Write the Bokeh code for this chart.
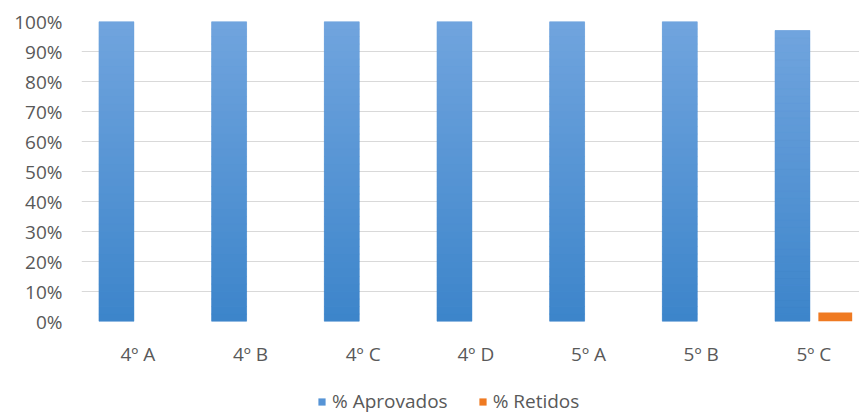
from bokeh.plotting import figure
from bokeh.layouts import column
from bokeh.models import Range1d, FixedTicker, NumeralTickFormatter, Legend, LegendItem, ColumnDataSource
from bokeh.embed import file_html
from bokeh.resources import INLINE

turmas = ["4º A", "4º B", "4º C", "4º D", "5º A", "5º B", "5º C"]
aprovados = [1.00, 1.00, 1.00, 1.00, 1.00, 1.00, 0.97]
retidos = [0.00, 0.00, 0.00, 0.00, 0.00, 0.00, 0.03]
series = ["% Aprovados", "% Retidos"]

FONT = "Open Sans"
FONT_SIZE = "19px"
GRAY = "#595959"
BLUE = "#5694d6"
BLUE_TOP = (0x70, 0xa4, 0xde)
BLUE_BOTTOM = (0x3d, 0x85, 0xca)
ORANGE = "#ef7a22"

idx = list(range(len(turmas)))
OFFSET = 0.19
src = ColumnDataSource(dict(
    xa=[i - OFFSET for i in idx],
    xr=[i + OFFSET for i in idx],
    aprovados=aprovados,
    retidos=retidos,
))

# vertical gradient for the blue bars: each bar split into thin bands
N = 40
gx, gb, gt, gc = [], [], [], []
for i, v in zip(idx, aprovados):
    for k in range(N):
        f = k / (N - 1)
        rgb = tuple(int(round(b + (t - b) * f)) for b, t in zip(BLUE_BOTTOM, BLUE_TOP))
        gx.append(i - OFFSET)
        gb.append(v * k / N)
        gt.append(v * (k + 1) / N)
        gc.append("#%02x%02x%02x" % rgb)
grad = ColumnDataSource(dict(x=gx, bottom=gb, top=gt, color=gc))

p = figure(width=859, height=370, output_backend="svg", toolbar_location=None,
           x_range=Range1d(-0.5, 6.405), y_range=Range1d(0, 1.0),
           min_border_left=81, min_border_right=0, min_border_top=21, min_border_bottom=49)
p.outline_line_color = None
p.background_fill_color = "white"
p.border_fill_color = "white"

p.vbar(x="xa", top="aprovados", bottom=0, width=0.31, source=src,
       fill_color=BLUE, line_color=None)
p.vbar(x="x", top="top", bottom="bottom", width=0.31, source=grad,
       fill_color="color", line_color="color", line_width=0.5)
p.vbar(x="xr", top="retidos", bottom=0, width=0.30, source=src,
       fill_color=ORANGE, line_color=None)

p.xgrid.grid_line_color = None
p.ygrid.grid_line_color = "#d9d9d9"
p.ygrid.grid_line_width = 1

p.yaxis.ticker = FixedTicker(ticks=[i / 10 for i in range(11)])
p.yaxis.formatter = NumeralTickFormatter(format="0%")
p.xaxis.ticker = FixedTicker(ticks=idx)
p.xaxis.major_label_overrides = {i: t for i, t in zip(idx, turmas)}

for ax in (p.xaxis, p.yaxis):
    ax.axis_line_color = None
    ax.major_tick_line_color = None
    ax.minor_tick_line_color = None
    ax.major_label_text_font = FONT
    ax.major_label_text_font_size = FONT_SIZE
    ax.major_label_text_color = GRAY
p.yaxis.major_label_standoff = 13
p.xaxis.major_label_standoff = 13

# legend strip under the chart; key renderers sit outside the visible range
lg = figure(width=859, height=46, output_backend="svg", toolbar_location=None,
            x_range=Range1d(0, 1), y_range=Range1d(0, 1),
            min_border=0, outline_line_color=None)
lg.axis.visible = False
lg.grid.visible = False
ka = lg.quad(left=[2], right=[3], top=[3], bottom=[2], fill_color=BLUE, line_color=None)
kr = lg.quad(left=[2], right=[3], top=[3], bottom=[2], fill_color=ORANGE, line_color=None)
legend = Legend(items=[LegendItem(label=series[0], renderers=[ka]),
                       LegendItem(label=series[1], renderers=[kr])],
                orientation="horizontal", location=(236, 2),
                label_text_font=FONT, label_text_font_size=FONT_SIZE, label_text_color=GRAY,
                glyph_width=9, glyph_height=9, spacing=30, label_standoff=6,
                border_line_color=None, background_fill_alpha=0, margin=0, padding=0)
lg.add_layout(legend, "center")

open("out.html", "w").write(file_html(column(p, lg, spacing=0), INLINE))
